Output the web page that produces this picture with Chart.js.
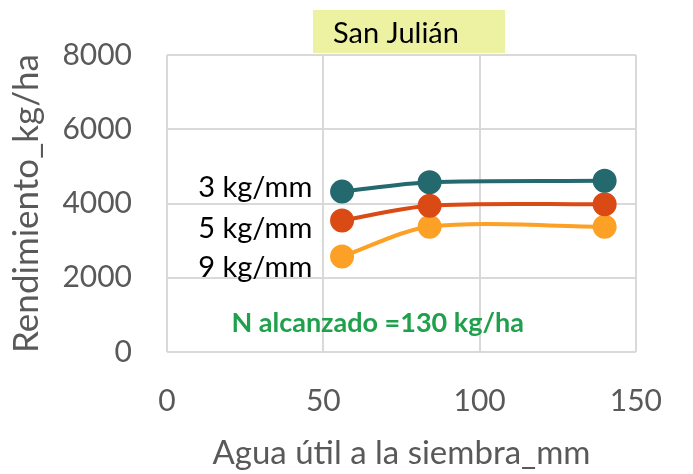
<!DOCTYPE html>
<html>
<head>
<meta charset="utf-8">
<script src="https://cdn.jsdelivr.net/npm/chart.js@4.4.1/dist/chart.umd.min.js"></script>
<style>
  html, body { margin: 0; padding: 0; background: #fff; }
  #wrap { width: 693px; height: 474px; }
</style>
</head>
<body>
<div id="wrap"><canvas id="chart"></canvas></div>
<script>
// water at sowing (mm) and yield (kg/ha) for each efficiency
const aguaUtil = [56, 84, 140];
const rend3 = [4320, 4570, 4610];
const rend5 = [3540, 3940, 3980];
const rend9 = [2570, 3375, 3375];

const seriesNames = ['3 kg/mm', '5 kg/mm', '9 kg/mm'];
const seriesColors = ['#23696E', '#DA4A14', '#FCA126'];

// label anchors in data units (x, baseline y)
const labelX = [10, 10, 10];
const labelY = [4175, 3071, 2020];
const noteText = 'N alcanzado =130 kg/ha';
const notePos = [20.6, 540];
const titleText = 'San Julián';

const xTicks = [0, 50, 100, 150];
const yTicks = [0, 2000, 4000, 6000, 8000];

const FONT = 'Lato, "Open Sans", sans-serif';

function toPoints(ys) {
  return aguaUtil.map((x, i) => ({ x: x, y: ys[i] }));
}

const datasets = [rend3, rend5, rend9].map((ys, i) => ({
  label: seriesNames[i],
  data: toPoints(ys),
  borderColor: seriesColors[i],
  backgroundColor: seriesColors[i],
  pointBackgroundColor: seriesColors[i],
  pointBorderColor: seriesColors[i],
  pointRadius: 10,
  pointHoverRadius: 10,
  borderWidth: 4,
  tension: 0.3,
  fill: false,
}));

// draws the series labels, the green note and the yellow title box
const textPlugin = {
  id: 'textPlugin',
  afterDraw(chart) {
    const ctx = chart.ctx;
    const xs = chart.scales.x;
    const ys = chart.scales.y;
    const area = chart.chartArea;
    ctx.save();
    ctx.textAlign = 'left';
    ctx.textBaseline = 'alphabetic';
    ctx.fillStyle = '#000';
    ctx.font = '29px ' + FONT;
    seriesNames.forEach((name, i) => {
      ctx.fillText(name, xs.getPixelForValue(labelX[i]), ys.getPixelForValue(labelY[i]));
    });

    ctx.fillStyle = '#1FA14C';
    ctx.font = 'bold 27px ' + FONT;
    ctx.fillText(noteText, xs.getPixelForValue(notePos[0]), ys.getPixelForValue(notePos[1]));

    // title box sits just above the plot area
    const boxL = area.left + 146, boxR = area.left + 338;
    ctx.fillStyle = '#EDF2A3';
    ctx.fillRect(boxL, 10, boxR - boxL, area.top - 12);
    ctx.fillStyle = '#000';
    ctx.font = '29px ' + FONT;
    ctx.fillText(titleText, boxL + 20, 43);
    ctx.restore();
  }
};

new Chart(document.getElementById('chart'), {
  type: 'line',
  data: { datasets: datasets },
  options: {
    responsive: true,
    maintainAspectRatio: false,
    animation: false,
    layout: { padding: { top: 55, right: 54, left: 0, bottom: 0 } },
    plugins: {
      legend: { display: false },
      tooltip: { enabled: false },
    },
    scales: {
      x: {
        type: 'linear',
        min: 0,
        max: 150,
        afterBuildTicks: (scale) => { scale.ticks = xTicks.map(v => ({ value: v })); },
        afterFit: (scale) => { scale.height = 122; },
        ticks: {
          padding: 31,
          color: '#595959',
          font: { family: FONT, size: 30 },
          callback: (v) => String(v),
        },
        grid: { color: '#D9D9D9', lineWidth: 2, drawTicks: false },
        border: { display: false },
        title: {
          display: true,
          text: 'Agua útil a la siembra_mm',
          color: '#595959',
          font: { family: FONT, size: 33 },
          padding: { top: 0, bottom: 1 },
        },
      },
      y: {
        min: 0,
        max: 8000,
        afterBuildTicks: (scale) => { scale.ticks = yTicks.map(v => ({ value: v })); },
        afterFit: (scale) => { scale.width = 167; },
        ticks: {
          padding: 35,
          color: '#595959',
          font: { family: FONT, size: 30 },
          callback: (v) => String(v),
        },
        grid: { color: '#D9D9D9', lineWidth: 2, drawTicks: false },
        border: { display: false },
        title: {
          display: true,
          text: 'Rendimiento_kg/ha',
          color: '#595959',
          font: { family: FONT, size: 35 },
          padding: { top: 6, bottom: 0 },
        },
      },
    },
  },
  plugins: [textPlugin],
});
</script>
</body>
</html>
